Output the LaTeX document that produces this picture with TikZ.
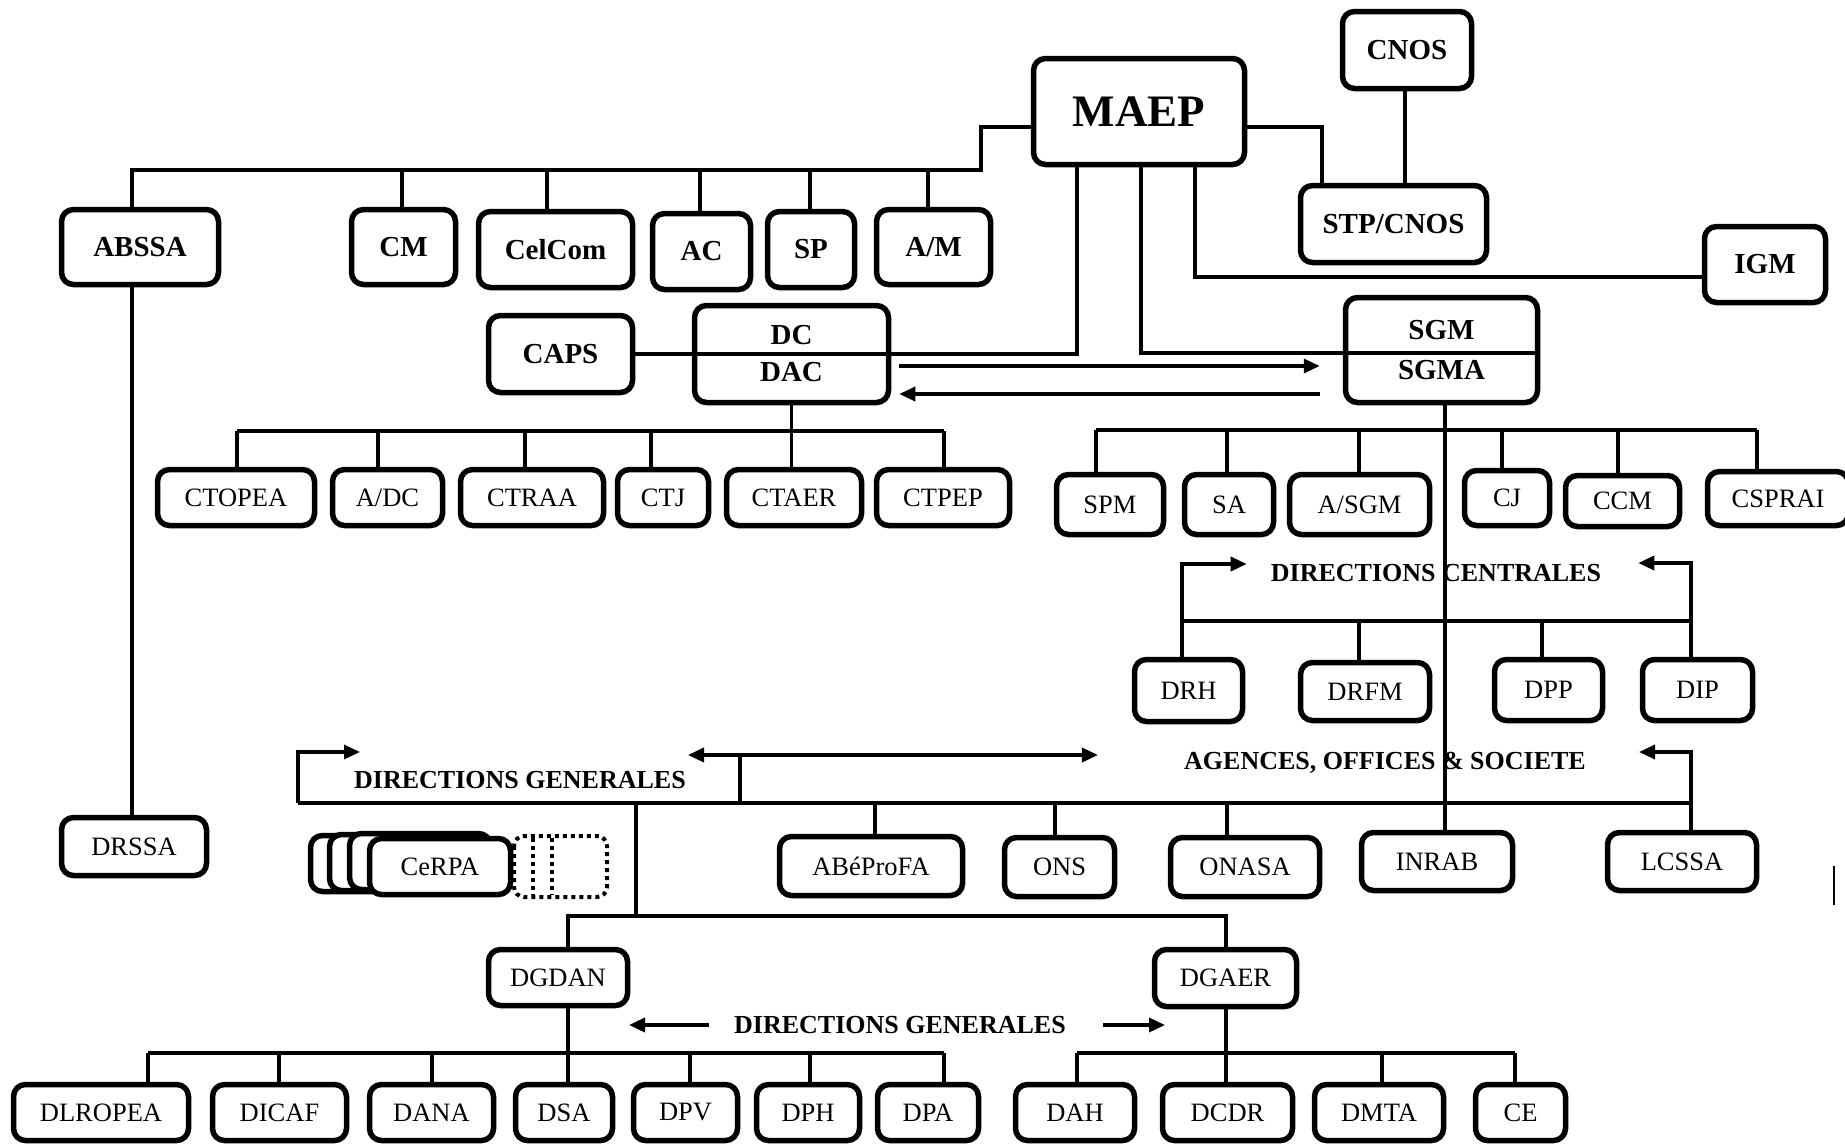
\documentclass[tikz,border=0pt]{standalone}
\usepackage{fontspec}
\setmainfont{Liberation Serif}
\usetikzlibrary{arrows.meta}

\begin{document}
\begin{tikzpicture}[x=1pt, y=-1pt,
  box/.style={draw, rounded corners=12pt, line width=5.5pt, inner sep=0pt},
  bb/.style={box, font=\bfseries\fontsize{29}{37}\selectfont, align=center},
  rr/.style={box, font=\fontsize{26.5}{30}\selectfont},
  lbl/.style={inner sep=0pt, font=\bfseries\fontsize{26}{30}\selectfont},
  link/.style={line width=3.5pt},
  arr/.style={link, -{Triangle[length=16pt,width=14pt]}},
  arrboth/.style={link, {Triangle[length=16pt,width=14pt]}-{Triangle[length=16pt,width=14pt]}}]
\useasboundingbox (0,0) rectangle (1845,1146);

% ministry and cabinet
\node[bb, font=\bfseries\fontsize{45}{50}\selectfont, minimum width=211pt, minimum height=106pt] (maep) at (1139,111.5) {MAEP};
\node[bb, minimum width=129pt, minimum height=77pt] (cnos) at (1407,50) {CNOS};
\node[bb, minimum width=186pt, minimum height=77pt] (stp) at (1393.5,224) {STP/CNOS};
\node[bb, minimum width=121pt, minimum height=76pt] (igm) at (1765,264.5) {IGM};
\node[bb, minimum width=157pt, minimum height=75pt] (abssa) at (140,247) {ABSSA};
\node[bb, minimum width=104pt, minimum height=75pt] (cm) at (403.5,247) {CM};
\node[bb, minimum width=154pt, minimum height=76pt] (celcom) at (555.5,249.5) {CelCom};
\node[bb, minimum width=98pt, minimum height=76pt] (ac) at (701.5,251.5) {AC};
\node[bb, minimum width=87pt, minimum height=76pt] (sp) at (811,249.5) {SP};
\node[bb, minimum width=114pt, minimum height=75pt] (am) at (933.5,247) {A/M};
\node[bb, minimum width=144pt, minimum height=77pt] (caps) at (560.5,354) {CAPS};
\node[bb, minimum width=194pt, minimum height=97pt] (dc) at (791.5,354) {DC\\DAC};
\node[bb, minimum width=192pt, minimum height=105pt] (sgm) at (1441.5,350) {SGM\\[3pt]SGMA};

% cells of the DC
\foreach \n/\x/\w/\t in {ctopea/236/157/CTOPEA, ctraa/532/143/CTRAA, ctj/663/91/CTJ, ctaer/794/135/CTAER, ctpep/943/133/CTPEP}
  \node[rr, minimum width=\w pt, minimum height=56pt] (\n) at (\x,497.5) {\t};
\node[rr, minimum width=110pt, minimum height=56pt] (adc) at (387.5,497.5) {A/DC};

% cells of the SGM
\node[rr, minimum width=107pt, minimum height=60pt] (spm) at (1110,504.5) {SPM};
\node[rr, minimum width=89pt, minimum height=60pt] (sa) at (1229,504.5) {SA};
\node[rr, minimum width=140pt, minimum height=60pt] (asgm) at (1359.5,504.5) {A/SGM};
\node[rr, minimum width=85pt, minimum height=55pt] (cj) at (1507,498) {CJ};
\node[rr, minimum width=114pt, minimum height=51pt] (ccm) at (1622.5,501) {CCM};
\node[rr, minimum width=141pt, minimum height=54pt] (csprai) at (1778,498.5) {CSPRAI};

% directions centrales
\node[lbl] (dcen) at (1436,573) {DIRECTIONS CENTRALES};
\node[rr, minimum width=108pt, minimum height=62pt] (drh) at (1188.5,690.5) {DRH};
\node[rr, minimum width=129pt, minimum height=58pt] (drfm) at (1365,691.5) {DRFM};
\node[rr, minimum width=108pt, minimum height=61pt] (dpp) at (1548.5,690) {DPP};
\node[rr, minimum width=110pt, minimum height=61pt] (dip) at (1697.5,690) {DIP};

% agences, offices
\node[lbl] (agences) at (1385,763) {AGENCES, OFFICES \& SOCIETE};
\node[lbl] (dgtop) at (520,780) {DIRECTIONS GENERALES};
\node[rr, minimum width=145pt, minimum height=58pt] (drssa) at (134,846.5) {DRSSA};
\foreach \i/\dx in {1/-59,2/-40,3/-20}
  \node[box, fill=white, minimum width=141pt, minimum height=56pt] (cerpa\i) at (440+\dx,864.5-\i) {};
\node[rr, fill=white, minimum width=141pt, minimum height=56pt] (cerpa) at (440,866.5) {CeRPA};
\draw[line width=4pt, dash pattern=on 4pt off 4pt, rounded corners=10pt] (514,836) rectangle (607,897);
\draw[line width=4pt, dash pattern=on 4pt off 4pt] (533,838) -- (533,895) (552,838) -- (552,895);
\node[rr, minimum width=183pt, minimum height=59pt] (abepro) at (871,866) {ABéProFA};
\node[rr, minimum width=110pt, minimum height=59pt] (ons) at (1059.5,867) {ONS};
\node[rr, minimum width=149pt, minimum height=59pt] (onasa) at (1245,867) {ONASA};
\node[rr, minimum width=151pt, minimum height=58pt] (inrab) at (1437,861.5) {INRAB};
\node[rr, minimum width=149pt, minimum height=58pt] (lcssa) at (1682,861.5) {LCSSA};
\draw[line width=2.5pt] (1834,866) -- (1834,905);

% directions generales
\node[rr, minimum width=139pt, minimum height=56pt] (dgdan) at (558,977.5) {DGDAN};
\node[rr, minimum width=142pt, minimum height=57pt] (dgaer) at (1225.5,978) {DGAER};
\node[lbl] (dglow) at (900,1025) {DIRECTIONS GENERALES};
\foreach \n/\x/\w/\t in {dlropea/101/175/DLROPEA, dicaf/279.5/134/DICAF, dana/431.5/124/DANA, dsa/564/97/DSA, dpv/685.5/104/DPV, dph/808/103/DPH, dpa/928/101/DPA, dah/1075/119/DAH, dcdr/1227.5/130/DCDR, dmta/1379/129/DMTA, ce/1520.5/90/CE}
  \node[rr, minimum width=\w pt, minimum height=56pt] (\n) at (\x,1112.5) {\t};

% links from MAEP
\coordinate (topbus) at (981,170);
\draw[link] ([yshift=-15.5pt]maep.west) -| (topbus) -| (abssa.north -| 132,0);
\foreach \n/\x in {cm/402,celcom/547,ac/700,sp/810,am/928}
  \draw[link] (\n.north -| \x,0) -- (\x,170);
\draw[link] ([yshift=-15.5pt]maep.east) -| ([xshift=-71.5pt]stp.north);
\draw[link] (cnos.south -| 1405,0) -- (stp.north -| 1405,0);
\draw[link] ([xshift=56pt]maep.south) |- ([yshift=-12.5pt]igm.west);
\draw[link] ([xshift=-62pt]maep.south) |- (caps.east);
\draw[link] ([xshift=2pt]maep.south) |- ([yshift=-3pt]sgm.east);
\draw[arr, shorten <=8pt, shorten >=23pt] ([yshift=-12pt]dc.east) -- ([yshift=-12pt]dc.east -| sgm.west);
\draw[arr, shorten <=23pt, shorten >=8pt] ([yshift=-44pt]sgm.west) -- ([yshift=-44pt]sgm.west -| dc.east);

% DC to its cells
\draw[link] (dc.south) -- (dc.south |- ctaer.north);
\draw[link] (237,431) -- (944,431);
\foreach \n/\x in {ctopea/237,adc/378,ctraa/525,ctj/651,ctpep/944}
  \draw[link] (\x,431) -- (\n.north -| \x,0);

% SGM to its cells
\draw[link] (sgm.south -| 1445,0) -- (inrab.north -| 1445,0);
\draw[link] (1096,430) -- (1757,430);
\foreach \n/\x in {spm/1096,sa/1227,asgm/1359,cj/1502,ccm/1618,csprai/1757}
  \draw[link] (\x,430) -- (\n.north -| \x,0);

% directions centrales
\draw[link] (1182,621) -- (1691,621);
\foreach \n/\x in {drfm/1359,dpp/1542}
  \draw[link] (\x,621) -- (\n.north -| \x,0);
\draw[arr] (drh.north -| 1182,0) |- ([xshift=-24pt,yshift=9pt]dcen.west);
\draw[arr] (dip.north -| 1691,0) |- ([xshift=37pt,yshift=10pt]dcen.east);

% agences, offices et societe
\draw[link] (298,803) -- (1691,803);
\draw[arr] (298,803) |- ([xshift=6pt,yshift=28pt]dgtop.west);
\draw[arrboth] ([xshift=2pt,yshift=25pt]dgtop.east) -- ([xshift=-86pt,yshift=8pt]agences.west);
\draw[link] (740,755) -- (740,803);
\draw[arr] (lcssa.north -| 1691,0) |- ([xshift=53pt,yshift=11pt]agences.east);
\foreach \n/\x in {abepro/875,ons/1055,onasa/1227}
  \draw[link] (\x,803) -- (\n.north -| \x,0);
\draw[link] (abssa.south -| 132,0) -- (drssa.north -| 132,0);

% directions generales
\draw[link] (636,803) -- (636,916);
\draw[link] (dgdan.north -| 568,0) |- (1226,916) -- (dgaer.north -| 1226,0);
\draw[link] (dgdan.south -| 568,0) -- (dsa.north -| 568,0);
\draw[link] (148,1053) -- (944,1053);
\foreach \n/\x in {dlropea/148,dicaf/279,dana/432,dpv/690,dph/810,dpa/944}
  \draw[link] (\x,1053) -- (\n.north -| \x,0);
\draw[link] (dgaer.south -| 1226,0) -- (dcdr.north -| 1226,0);
\draw[link] (1077,1053) -- (1515,1053);
\foreach \n/\x in {dah/1077,dmta/1382,ce/1515}
  \draw[link] (\x,1053) -- (\n.north -| \x,0);
\draw[arr] ([xshift=-25pt]dglow.west) -- ([xshift=-105pt]dglow.west);
\draw[arr] ([xshift=37pt]dglow.east) -- ([xshift=99pt]dglow.east);
\end{tikzpicture}
\end{document}
